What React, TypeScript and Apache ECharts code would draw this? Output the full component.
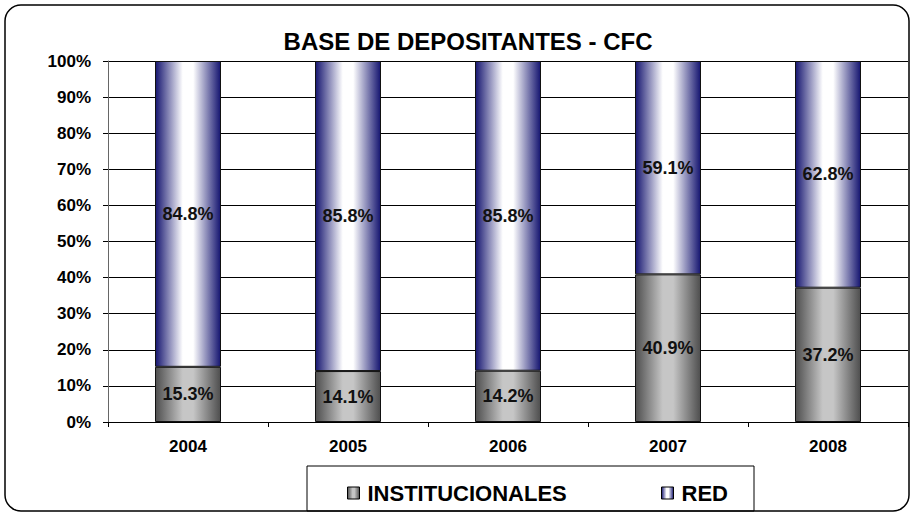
import React, { useEffect, useRef } from "react";
import * as echarts from "echarts";

const years = ["2004", "2005", "2006", "2007", "2008"];
const institucionales = [15.3, 14.1, 14.2, 40.9, 37.2];
const red = [84.8, 85.8, 85.8, 59.1, 62.8];
const yTicks = [0, 10, 20, 30, 40, 50, 60, 70, 80, 90, 100];

const FONT = "Liberation Sans, Arial, sans-serif";

const grayGrad = () =>
  new echarts.graphic.LinearGradient(0, 0, 1, 0, [
    { offset: 0, color: "#4e4e4e" },
    { offset: 0.42, color: "#c6c6c6" },
    { offset: 0.58, color: "#c6c6c6" },
    { offset: 1, color: "#4e4e4e" },
  ]);
const blueGrad = () =>
  new echarts.graphic.LinearGradient(0, 0, 1, 0, [
    { offset: 0, color: "#151570" },
    { offset: 0.42, color: "#ffffff" },
    { offset: 0.58, color: "#ffffff" },
    { offset: 1, color: "#151570" },
  ]);

export default function App() {
  const ref = useRef<HTMLDivElement>(null);
  useEffect(() => {
    if (!ref.current) return;
    const chart = echarts.init(ref.current, undefined, { renderer: "svg" });
    const total = years.map((_, i) => institucionales[i] + red[i]);
    const instPct = institucionales.map((v, i) => (v / total[i]) * 100);
    const redPct = red.map((v, i) => (v / total[i]) * 100);
    const label = (vals: number[]) => ({
      show: true,
      position: "inside" as const,
      color: "#111",
      fontFamily: FONT,
      fontWeight: "bold" as const,
      fontSize: 18,
      formatter: (p: any) => vals[p.dataIndex].toFixed(1) + "%",
    });
    const legendText = {
      fontFamily: FONT,
      fontWeight: "bold",
      fontSize: 22,
      color: "#000",
      padding: [2, 0, 0, 3],
    };
    chart.setOption({
      animation: false,
      backgroundColor: "#fff",
      title: {
        text: "BASE DE DEPOSITANTES - CFC",
        left: 463,
        textAlign: "center",
        top: 24,
        textStyle: { fontFamily: FONT, fontWeight: "bold", fontSize: 24, color: "#000" },
      },
      graphic: [
        {
          type: "rect",
          shape: { x: 5, y: 5, width: 904, height: 506, r: 16 },
          style: { fill: "none", stroke: "#000", lineWidth: 1.5 },
          z: 100,
        },
        {
          type: "rect",
          shape: { x: 307, y: 466, width: 447, height: 45 },
          style: { fill: "#fff", stroke: "#000", lineWidth: 1 },
          z: 1,
        },
      ],
      legend: [
        {
          left: 342,
          top: 477,
          itemWidth: 12,
          itemHeight: 12,
          icon: "rect",
          textStyle: legendText,
          data: [{ name: "INSTITUCIONALES", itemStyle: { color: grayGrad(), borderColor: "#000", borderWidth: 1 } }],
          z: 10,
        },
        {
          left: 656,
          top: 477,
          itemWidth: 12,
          itemHeight: 12,
          icon: "rect",
          textStyle: legendText,
          data: [{ name: "RED", itemStyle: { color: blueGrad(), borderColor: "#000", borderWidth: 1 } }],
          z: 10,
        },
      ],
      grid: { left: 108, right: 6, top: 61, bottom: 94, containLabel: false },
      xAxis: {
        type: "category",
        data: years,
        axisLine: { lineStyle: { color: "#000", width: 1 } },
        axisTick: { show: true, length: 5, lineStyle: { color: "#000" } },
        axisLabel: { fontFamily: FONT, fontWeight: "bold", fontSize: 17, color: "#000", margin: 16 },
      },
      yAxis: {
        type: "value",
        min: 0,
        max: 100,
        interval: 10,
        axisLine: { show: true, lineStyle: { color: "#666", width: 1 } },
        axisTick: { show: true, length: 5, lineStyle: { color: "#000" } },
        splitLine: { show: true, lineStyle: { color: "#000", width: 1 } },
        axisLabel: {
          fontFamily: FONT,
          fontWeight: "bold",
          fontSize: 17,
          color: "#000",
          margin: 17,
          formatter: (v: number) => (yTicks.includes(v) ? v + "%" : ""),
        },
      },
      series: [
        {
          name: "INSTITUCIONALES",
          type: "bar",
          stack: "s",
          barWidth: 66,
          data: instPct,
          itemStyle: { color: grayGrad(), borderColor: "#111", borderWidth: 1 },
          label: label(institucionales),
        },
        {
          name: "RED",
          type: "bar",
          stack: "s",
          barWidth: 66,
          data: redPct,
          itemStyle: { color: blueGrad(), borderColor: "#111", borderWidth: 1 },
          label: label(red),
        },
      ],
    });
    return () => chart.dispose();
  }, []);
  return <div ref={ref} style={{ position: "fixed", left: 0, top: 0, width: 914, height: 516 }} />;
}
